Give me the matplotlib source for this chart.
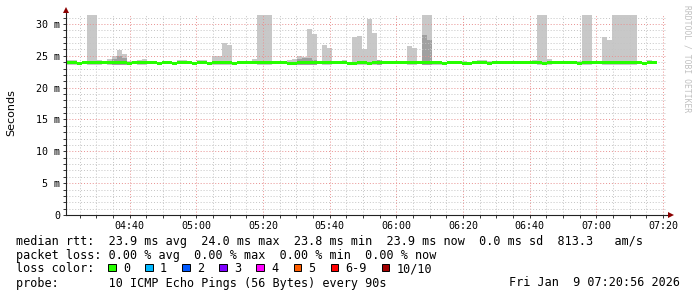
import numpy as np
import matplotlib
matplotlib.use("Agg")
import matplotlib.pyplot as plt
from matplotlib.patches import Rectangle
from matplotlib.lines import Line2D
from matplotlib.ticker import MultipleLocator, FuncFormatter

# 90 s steps, time in minutes after 04:00 (first step starts 04:21:18)
STEP = 1.5
START = 21.3

# upper edge of the smoke (ms); values above the top are clipped
smoke_hi = [
    24.3, 24.3, 24.0, 24.0, 33, 33, 24.3, 24.25, 24.5, 24.9,
    25.9, 25.3, 24.1, 24.1, 24.3, 24.5, 24.25, 24.25, 24.0, 24.25,
    24.25, 24.0, 24.3, 24.3, 24.0, 24.0, 24.3, 24.3, 24.0, 25.0,
    25.0, 27.05, 26.7, 24.0, 24.25, 24.25, 24.25, 24.5, 33, 33,
    33, 24.25, 24.25, 24.25, 24.3, 24.5, 25.0, 24.8, 29.2, 28.4,
    24.1, 26.7, 26.2, 24.1, 24.25, 24.3, 24.0, 28.0, 28.1, 26.0,
    30.8, 28.6, 24.3, 24.25, 24.25, 24.1, 24.1, 24.1, 26.6, 26.2,
    24.1, 33, 33, 24.0, 23.9, 24.0, 24.1, 24.1, 24.1, 24.25,
    24.0, 24.1, 24.3, 24.3, 24.25, 24.25, 24.25, 24.0, 24.0, 24.0,
    24.0, 24.25, 24.25, 24.3, 33, 33, 24.5, 24.25, 24.25, 24.25,
    24.1, 24.1, 24.1, 33, 33, 24.25, 24.1, 28.0, 27.4, 33,
    33, 33, 33, 33, 24.1, 24.0, 24.3, 24.25,
]

# top of the denser (darker) part of the smoke, None where there is none
smoke_mid = [
    None, None, None, None, None, None, None, None, None, 24.5,
    24.9, 24.7, None, None, None, None, None, None, None, None,
    None, None, None, None, None, None, None, None, None, None,
    None, None, None, None, None, None, None, None, None, None,
    None, None, None, None, None, None, 24.5, 24.6, 24.6, 24.4,
    None, None, None, None, None, None, None, None, None, None,
    None, None, 24.4, None, None, None, None, None, None, None,
    None, 28.3, 27.5, None, None, None, None, None, None, None,
    None, None, None, None, None, None, None, None, None, None,
    None, None, None, None, None, None, None, None, None, None,
    None, None, None, None, None, None, None, None, None, None,
    None, None, None, None, None, None, None, None,
]

# lower edge of the smoke (ms)
smoke_lo = [
    23.6, 23.6, 23.7, 23.7, 23.6, 23.6, 23.6, 23.7, 23.6, 23.6,
    23.6, 23.6, 23.7, 23.7, 23.6, 23.6, 23.7, 23.7, 23.7, 23.7,
    23.7, 23.7, 23.7, 23.7, 23.7, 23.7, 23.7, 23.7, 23.7, 23.6,
    23.6, 23.6, 23.6, 23.7, 23.7, 23.7, 23.7, 23.7, 23.6, 23.6,
    23.6, 23.7, 23.7, 23.7, 23.6, 23.6, 23.6, 23.6, 23.6, 23.6,
    23.7, 23.6, 23.6, 23.7, 23.7, 23.7, 23.7, 23.6, 23.6, 23.6,
    23.6, 23.6, 23.6, 23.7, 23.7, 23.7, 23.7, 23.7, 23.6, 23.6,
    23.7, 23.6, 23.6, 23.5, 23.5, 23.7, 23.7, 23.7, 23.7, 23.7,
    23.7, 23.7, 23.7, 23.7, 23.7, 23.7, 23.7, 23.7, 23.7, 23.7,
    23.7, 23.7, 23.7, 23.7, 23.6, 23.6, 23.6, 23.7, 23.7, 23.7,
    23.7, 23.7, 23.7, 23.6, 23.6, 23.7, 23.7, 23.6, 23.6, 23.6,
    23.6, 23.6, 23.6, 23.6, 23.7, 23.7, 23.7, 23.7,
]

# median rtt (ms), all steps with 0 loss
median_rtt = [
    23.93, 23.93, 23.78, 23.93, 23.93, 23.93, 23.93, 23.93, 23.93, 23.93,
    23.93, 23.93, 23.78, 23.93, 23.93, 23.93, 23.93, 23.93, 23.78, 23.93,
    23.93, 23.78, 23.93, 23.93, 23.93, 23.78, 23.93, 23.93, 23.78, 23.93,
    23.93, 23.93, 23.93, 23.78, 23.93, 23.93, 23.93, 23.93, 23.93, 23.93,
    23.93, 23.93, 23.93, 23.93, 23.78, 23.78, 23.93, 23.93, 23.93, 23.93,
    23.93, 23.93, 23.93, 23.93, 23.93, 23.93, 23.78, 23.78, 23.93, 23.93,
    23.78, 23.93, 23.93, 23.93, 23.93, 23.93, 23.93, 23.93, 23.93, 23.93,
    23.93, 23.93, 23.93, 23.93, 23.93, 23.78, 23.93, 23.93, 23.93, 23.78,
    23.78, 23.93, 23.93, 23.93, 23.78, 23.93, 23.93, 23.93, 23.93, 23.93,
    23.93, 23.93, 23.93, 23.93, 23.93, 23.78, 23.93, 23.93, 23.93, 23.93,
    23.93, 23.93, 23.78, 23.93, 23.93, 23.93, 23.93, 23.93, 23.93, 23.93,
    23.93, 23.93, 23.93, 23.93, 23.93, 23.78, 23.93, 23.93,
]

loss_labels = ["0", "1", "2", "3", "4", "5", "6-9", "10/10"]
loss_colors = ["#26ff00", "#00b8ff", "#0059ff", "#7e00ff", "#ff00ff",
               "#ff5e00", "#ff0000", "#a10000"]

legend_rtt = "median rtt:  23.9 ms avg  24.0 ms max  23.8 ms min  23.9 ms now  0.0 ms sd  813.3   am/s"
legend_loss = "packet loss: 0.00 % avg  0.00 % max  0.00 % min  0.00 % now"
legend_probe = "probe:       10 ICMP Echo Pings (56 Bytes) every 90s"
stamp = "Fri Jan  9 07:20:56 2026"

W, H = 697, 297
MONO = "DejaVu Sans Mono"

fig = plt.figure(figsize=(W / 100, H / 100), dpi=100, facecolor="white")
ax = fig.add_axes([66 / W, (H - 215) / H, 600 / W, 200 / H])

t = START + STEP * np.arange(len(median_rtt))
hi = np.array(smoke_hi, dtype=float)
lo = np.array(smoke_lo, dtype=float)
mid = np.array(smoke_mid, dtype=float)
med = np.array(median_rtt, dtype=float)

ax.bar(t, hi - lo, bottom=lo, width=STEP, align="edge", color="#c8c8c8", lw=0)
ax.bar(t, mid - lo, bottom=lo, width=STEP, align="edge", color="#a0a0a0", lw=0)
ax.bar(t, 0.46, bottom=med - 0.23, width=STEP, align="edge", color=loss_colors[0],
       lw=0, zorder=3)

ax.set_xlim(20.933, 200.933)
ax.set_ylim(0, 31.4)
for s in ax.spines.values():
    s.set_visible(False)

ax.xaxis.set_major_locator(MultipleLocator(20))
ax.xaxis.set_minor_locator(MultipleLocator(5))
ax.yaxis.set_major_locator(MultipleLocator(5))
ax.yaxis.set_minor_locator(MultipleLocator(1))
ax.xaxis.set_major_formatter(FuncFormatter(lambda m, p: f"{int(m // 60) + 4:02d}:{int(m % 60):02d}"))
ax.yaxis.set_major_formatter(FuncFormatter(lambda v, p: "0" if v == 0 else f"{int(v)} m"))

ax.tick_params(which="both", direction="out", color="#333333", labelsize=7.2, pad=2.3)
ax.tick_params(which="major", length=2, width=0.7)
ax.tick_params(which="minor", length=2, width=0.7)
for lab in ax.get_xticklabels() + ax.get_yticklabels():
    lab.set_family(MONO)

ax.set_axisbelow(False)
ax.grid(which="minor", color="#c4c4c4", lw=0.7, linestyle=(0, (1, 2)))
ax.grid(which="major", color="#e89090", lw=0.7, linestyle=(0, (1, 2)))

# axis lines with arrow heads
fig.add_artist(Line2D([66 / W, 66 / W], [1 - 215 / H, 1 - 11 / H], color="#222222", lw=0.8))
fig.add_artist(Line2D([66 / W, 670 / W], [1 - 215 / H, 1 - 215 / H], color="#222222", lw=0.8))
fig.add_artist(Line2D([66 / W], [1 - 10 / H], marker="^", ms=4, color="#8b0000", mew=0))
fig.add_artist(Line2D([670.5 / W], [1 - 215 / H], marker=">", ms=4, color="#8b0000", mew=0))

fig.text(11 / W, 1 - 113 / H, "Seconds", rotation=90, ha="center", va="center",
         family="DejaVu Sans", size=8)
fig.text(687.5 / W, 1 - 5 / H, "RRDTOOL / TOBI OETIKER", rotation=270, ha="center",
         va="top", family=MONO, size=5.8, color="#c0c0c0")

rows = [241, 255, 269, 283]
fig.text(16 / W, 1 - rows[0] / H, legend_rtt, family=MONO, size=8.5, va="center")
fig.text(16 / W, 1 - rows[1] / H, legend_loss, family=MONO, size=8.5, va="center")
fig.text(16 / W, 1 - rows[2] / H, "loss color:", family=MONO, size=8.5, va="center")
fig.text(16 / W, 1 - rows[3] / H, legend_probe, family=MONO, size=8.5, va="center")
fig.text(680 / W, 1 - rows[3] / H, stamp, family=MONO, size=8.5, va="center", ha="right")

bx = 108.0
for lab, col in zip(loss_labels, loss_colors):
    fig.add_artist(Rectangle((bx / W, 1 - 271 / H), 7.5 / W, 7.5 / H,
                             facecolor=col, edgecolor="black", lw=0.7,
                             transform=fig.transFigure))
    lx = bx + 15
    fig.text(lx / W, 1 - rows[2] / H, lab, family=MONO, size=8.5, va="center")
    bx = lx + len(lab) * 7.1 + 15

fig.savefig("out.png", dpi=100, facecolor="white")
